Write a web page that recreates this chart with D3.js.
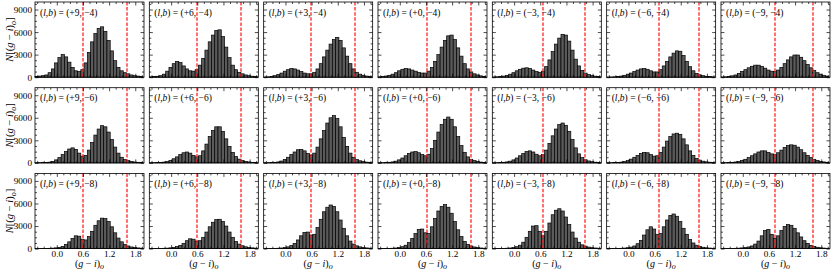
<!DOCTYPE html>
<html>
<head>
<meta charset="utf-8"/>
<script src="https://d3js.org/d3.v7.min.js"></script>
<style>
  body { margin: 0; background: white; }
  text { font-family: "Liberation Serif", "DejaVu Serif", serif; }
</style>
</head>
<body>
<div id="chart"></div>
<script>
// galactic longitudes (columns) and latitudes (rows)
var lons = ["+9", "+6", "+3", "+0", "\u22123", "\u22126", "\u22129"];
var lats = ["\u22124", "\u22126", "\u22128"];

// histogram bins in (g-i)_o
var binStart = -0.5, binWidth = 0.075, nBins = 33;

// red dashed cuts, one pair per column
var cutBlue = [0.60, 0.60, 0.59, 0.61, 0.66, 0.70, 0.75];
var cutRed  = [1.59, 1.60, 1.60, 1.63, 1.64, 1.64, 1.63];

// counts per bin, row b=-4
var n_p9_m4 = [100,150,200,300,600,1100,1900,2600,3000,2700,2000,1300,850,750,1000,1900,3300,4700,5800,6500,6700,6100,4900,3500,2200,1300,850,600,450,300,200,150,100];
var n_p6_m4 = [50,80,120,200,400,800,1300,1800,2100,1950,1500,1100,850,800,1000,1600,2500,3600,4700,5600,6200,6300,5400,4000,2600,1600,1000,650,450,300,200,130,80];
var n_p3_m4 = [30,50,100,200,350,550,800,1000,1150,1100,950,750,550,450,450,650,1100,1800,2700,3600,4400,5000,5300,4900,3900,2800,1800,1100,650,400,250,150,100];
var n_p0_m4 = [50,80,150,250,400,600,850,1050,1150,1100,950,800,650,550,550,800,1300,2100,3000,4000,4900,5500,5600,5000,3900,2800,1800,1100,700,450,300,180,100];
var n_m3_m4 = [30,50,80,150,250,400,600,850,1050,1200,1250,1150,950,750,650,800,1400,2300,3400,4400,5200,5700,5600,4800,3600,2400,1500,900,550,350,220,140,80];
var n_m6_m4 = [20,30,50,80,150,250,400,550,750,950,1100,1150,1050,850,700,700,1000,1500,2100,2700,3200,3500,3450,2900,2100,1400,850,500,320,200,120,80,50];
var n_m9_m4 = [30,50,100,180,300,500,750,1000,1250,1450,1600,1600,1450,1200,950,800,750,950,1300,1800,2300,2700,2950,2950,2650,2200,1700,1250,900,600,400,250,150];

// row b=-6
var n_p9_m6 = [20,30,40,60,100,200,400,700,1100,1500,1850,2000,1800,1300,900,1000,1700,2700,3700,4500,4950,4800,4100,3100,2100,1300,750,450,300,200,120,80,50];
var n_p6_m6 = [20,30,40,60,100,180,330,550,800,1100,1350,1450,1300,1000,800,950,1600,2500,3500,4300,4800,4800,4200,3200,2200,1400,850,500,320,200,130,80,50];
var n_p3_m6 = [20,30,50,80,130,250,450,750,1100,1450,1750,1800,1600,1250,1050,1300,2100,3200,4300,5300,6000,6300,5900,4800,3400,2200,1300,750,450,280,170,100,60];
var n_p0_m6 = [20,30,50,80,130,230,400,650,950,1250,1450,1500,1350,1100,950,1150,1900,3000,4100,5100,5800,6100,5800,4800,3500,2300,1400,800,480,300,180,110,70];
var n_m3_m6 = [20,30,50,80,130,230,400,650,950,1250,1500,1600,1450,1150,950,1100,1700,2600,3600,4500,5100,5300,5000,4200,3100,2000,1200,700,420,260,160,100,60];
var n_m6_m6 = [20,30,40,60,100,170,300,500,750,1000,1250,1400,1350,1100,900,950,1400,2100,2900,3500,3850,3950,3800,3200,2400,1600,1000,600,370,230,140,90,50];
var n_m9_m6 = [20,30,50,80,120,200,320,480,700,950,1200,1450,1600,1600,1400,1200,1150,1350,1700,2050,2300,2400,2350,2100,1750,1350,1000,700,480,320,200,130,80];

// row b=-8
var n_p9_m8 = [10,15,20,30,40,60,100,170,300,550,900,1350,1700,1650,1250,1150,1600,2300,3100,3700,4050,4000,3600,2900,2100,1400,900,550,350,220,140,90,60];
var n_p6_m8 = [10,15,20,30,40,60,100,160,260,420,700,1050,1300,1250,1000,1050,1500,2200,2900,3500,3850,3900,3600,3000,2200,1500,950,600,380,240,150,100,60];
var n_p3_m8 = [10,15,20,30,50,80,130,230,400,700,1150,1700,2150,2200,1800,1900,2800,3900,4900,5500,5800,5600,4900,3800,2700,1700,1000,600,370,230,140,90,50];
var n_p0_m8 = [10,15,20,30,50,80,140,250,450,800,1350,2000,2550,2600,2100,2000,2900,4000,5000,5600,5850,5500,4700,3600,2500,1600,950,570,350,220,130,80,50];
var n_m3_m8 = [10,15,20,30,50,80,140,250,450,850,1500,2300,3000,3050,2300,1700,2300,3400,4500,5100,5300,5000,4200,3200,2200,1400,850,500,320,200,120,80,50];
var n_m6_m8 = [10,15,20,30,40,70,120,200,350,650,1100,1800,2500,2900,2600,1900,2000,2900,3800,4400,4600,4300,3600,2700,1900,1200,750,450,280,180,110,70,40];
var n_m9_m8 = [10,15,20,30,40,60,90,140,220,350,600,1000,1700,2400,2550,1900,1350,1700,2400,2950,3200,3100,2700,2100,1550,1050,700,430,280,180,110,70,40];

var counts = [
  [n_p9_m4, n_p6_m4, n_p3_m4, n_p0_m4, n_m3_m4, n_m6_m4, n_m9_m4],
  [n_p9_m6, n_p6_m6, n_p3_m6, n_p0_m6, n_m3_m6, n_m6_m6, n_m9_m6],
  [n_p9_m8, n_p6_m8, n_p3_m8, n_p0_m8, n_m3_m8, n_m6_m8, n_m9_m8]
];

var xTicks = [0.0, 0.6, 1.2, 1.8];
var yTicks = [0, 3000, 6000, 9000];

var W = 831, H = 271;
var left0 = 35, colStep = 114.33, pw = 109;
var top0 = 2, rowStep = 85.7, ph = 75.2;

var svg = d3.select("#chart").append("svg")
    .attr("width", W).attr("height", H);

var x = d3.scaleLinear().domain([-0.5, 2.0]).range([0, pw]);
var y = d3.scaleLinear().domain([0, 10000]).range([ph, 0]);

var xMinor = d3.range(-0.45, 2.0, 0.15).filter(function(v){ return Math.abs(v/0.6 - Math.round(v/0.6)) > 1e-6; });
var yMinor = d3.range(750, 10000, 750).filter(function(v){ return v % 3000 !== 0; });

function addTicks(g, r, c) {
  // major + minor, inward on all four sides
  g.append("g").attr("transform", "translate(0," + ph + ")")
      .call(d3.axisBottom(x).tickValues(xTicks).tickSize(-3.5).tickPadding(1.5)
        .tickFormat(r === 2 ? d3.format(".1f") : ""));
  g.append("g").attr("transform", "translate(0," + ph + ")")
      .call(d3.axisBottom(x).tickValues(xMinor).tickSize(-2).tickFormat(""));
  g.append("g").call(d3.axisTop(x).tickValues(xTicks).tickSize(-3.5).tickFormat(""));
  g.append("g").call(d3.axisTop(x).tickValues(xMinor).tickSize(-2).tickFormat(""));
  g.append("g")
      .call(d3.axisLeft(y).tickValues(yTicks).tickSize(-3.5).tickPadding(3)
        .tickFormat(c === 0 ? d3.format("d") : ""));
  g.append("g").call(d3.axisLeft(y).tickValues(yMinor).tickSize(-2).tickFormat(""));
  g.append("g").attr("transform", "translate(" + pw + ",0)")
      .call(d3.axisRight(y).tickValues(yTicks).tickSize(-3.5).tickFormat(""));
  g.append("g").attr("transform", "translate(" + pw + ",0)")
      .call(d3.axisRight(y).tickValues(yMinor).tickSize(-2).tickFormat(""));
  g.selectAll(".domain").remove();
  g.selectAll(".tick line").attr("stroke", "#000").attr("stroke-width", 0.7);
  g.selectAll(".tick text").attr("fill", "#000")
      .style("font-family", "'Liberation Serif', serif").style("font-size", "9.2px");
}

// append "(g − i)" with a subscript o
function colourLabel(t) {
  t.append("tspan").text("(");
  t.append("tspan").style("font-style", "italic").text("g");
  t.append("tspan").text(" \u2212 ");
  t.append("tspan").style("font-style", "italic").text("i");
  t.append("tspan").text(")");
  t.append("tspan").attr("dy", 2.5).style("font-size", "8px").style("font-style", "italic").text("o");
}

for (var r = 0; r < 3; r++) {
  for (var c = 0; c < 7; c++) {
    var gx = left0 + c * colStep, gy = top0 + r * rowStep;
    var g = svg.append("g")
        .attr("transform", "translate(" + gx + "," + gy + ")");

    var bins = counts[r][c].map(function(v, i) {
      return { x0: binStart + i * binWidth, x1: binStart + (i + 1) * binWidth, n: v };
    });

    g.selectAll("rect.bar").data(bins).enter().append("rect")
        .attr("class", "bar")
        .attr("x", function(d){ return x(d.x0); })
        .attr("width", function(d){ return x(d.x1) - x(d.x0); })
        .attr("y", function(d){ return y(d.n); })
        .attr("height", function(d){ return ph - y(d.n); })
        .attr("fill", "#5a5a5a")
        .attr("stroke", "#000")
        .attr("stroke-width", 0.7);

    [cutBlue[c], cutRed[c]].forEach(function(v) {
      // keep the dashes on a 2px column so they stay visibly red
      var px = 2 * Math.floor((gx + x(v)) / 2) + 1 - gx;
      g.append("line")
          .attr("x1", px).attr("x2", px)
          .attr("y1", 0).attr("y2", ph)
          .attr("stroke", "#ff1a1a")
          .attr("stroke-width", 1.25)
          .attr("stroke-dasharray", "3.5,1.6");
    });

    addTicks(g, r, c);

    g.append("rect")
        .attr("width", pw).attr("height", ph)
        .attr("fill", "none").attr("stroke", "#000").attr("stroke-width", 0.8);

    var lab = g.append("text").attr("x", 5).attr("y", 13.5).style("font-size", "9.5px");
    lab.append("tspan").text("(");
    lab.append("tspan").style("font-style", "italic").text("l");
    lab.append("tspan").text(",");
    lab.append("tspan").style("font-style", "italic").text("b");
    lab.append("tspan").text(") = (" + lons[c] + ", " + lats[r] + ")");

    if (r === 2) {
      var xl = g.append("text").attr("x", pw / 2).attr("y", ph + 18)
          .attr("text-anchor", "middle").style("font-size", "10px");
      colourLabel(xl);
    }

    if (c === 0) {
      var yl = g.append("text")
          .attr("transform", "translate(-22," + (ph / 2) + ") rotate(-90)")
          .attr("text-anchor", "middle").style("font-size", "10.5px");
      yl.append("tspan").style("font-style", "italic").text("N");
      yl.append("tspan").text("[");
      colourLabel(yl);
      yl.append("tspan").attr("dy", -2.5).text("]");
    }
  }
}
</script>
</body>
</html>
